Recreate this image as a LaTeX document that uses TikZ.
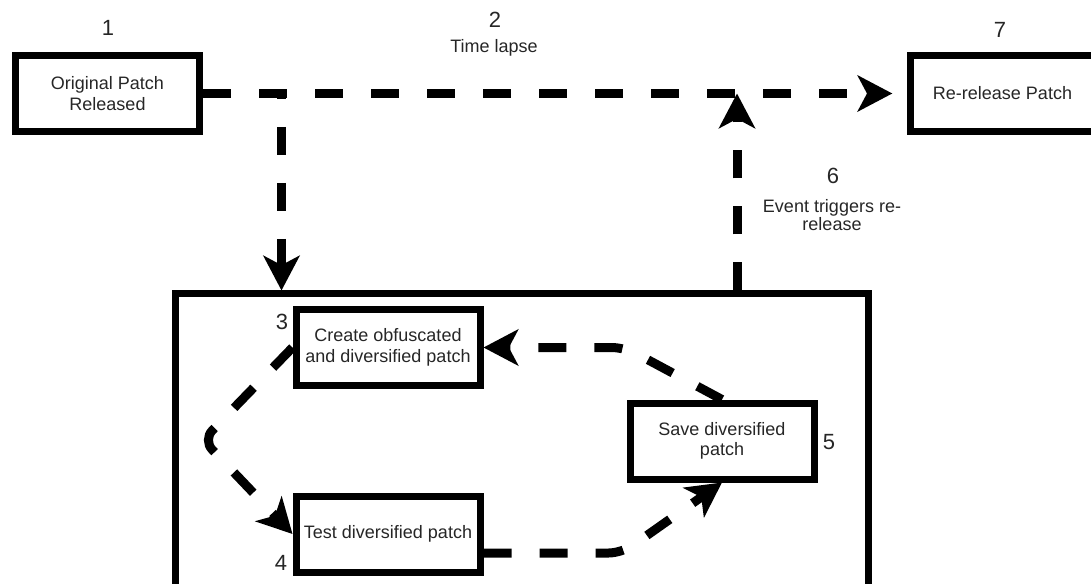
\documentclass[tikz,border=0pt]{standalone}
\usepackage{fontspec}
\setmainfont{Liberation Sans}
\usetikzlibrary{positioning}
\usetikzlibrary{arrows.meta}

\begin{document}
\begin{tikzpicture}[line join=miter,x=0.75pt,y=-0.75pt,
  box/.style={draw,line width=5.25pt,minimum width=138pt,minimum height=57pt,inner sep=0pt,align=center,font=\fontsize{13.5}{15.5}\selectfont,text=black!85},
  num/.style={font=\fontsize{16.5}{18}\selectfont,text=black!85,inner sep=0pt},
  lbl/.style={font=\fontsize{13.5}{13}\selectfont,text=black!85,align=center,inner sep=0pt},
  flow/.style={line width=6.75pt,dash pattern=on 21pt off 21pt,-{Stealth[length=26pt,width=27pt,inset=7pt]}}]
\clip (0,0) rectangle (1091,584);
% outer frame, cut off at the bottom
\node[draw,line width=5.25pt,minimum width=519.75pt,minimum height=244.5pt,inner sep=0pt] (group) at (522,457) {};
% steps
\node[box] (orig) at (107.5,93.5) {Original Patch\\Released};
\node[box] (rerel) at (1002.5,93.5) {Re-release Patch};
\node[box] (create) at (388,347.5) {Create obfuscated\\and diversified patch};
\node[box] (test) at (388,534) {Test diversified patch};
\node[box] (save) at (722,441) {Save diversified\\patch};
% numbers and captions
\node[num] (n1) at (108,28) {1};
\node[num] (n2) at (495,20) {2};
\node[lbl] (tlapse) at (494,47.5) {Time lapse};
\node[num] (n7) at (1000,30) {7};
\node[num] (n6) at (833,176) {6};
\node[lbl] (trig) at (832,215) {Event triggers re-\\release};
\node[num] (n3) at (282,322) {3};
\node[num] (n4) at (281,563) {4};
\node[num] (n5) at (829,442) {5};
% connectors
\coordinate (bend) at (281.5,93.5);
\coordinate (join) at (737,93.5);
\draw[flow,shorten >=11pt] (orig.east) -- (rerel.west);
\draw[flow] (orig.east) -- (bend) -- (group.north -| bend);
\draw[flow] (group.north -| join) -- (join);
\draw[flow,rounded corners=10pt] (create.west) -- (203,440) -- (test.west);
\draw[flow,rounded corners=10pt] ([yshift=-14.25pt]test.east) -- (622,553) -- (save.south);
\draw[flow,rounded corners=10pt] (save.north) -- (625,347.5) -- (create.east);
\end{tikzpicture}
\end{document}
